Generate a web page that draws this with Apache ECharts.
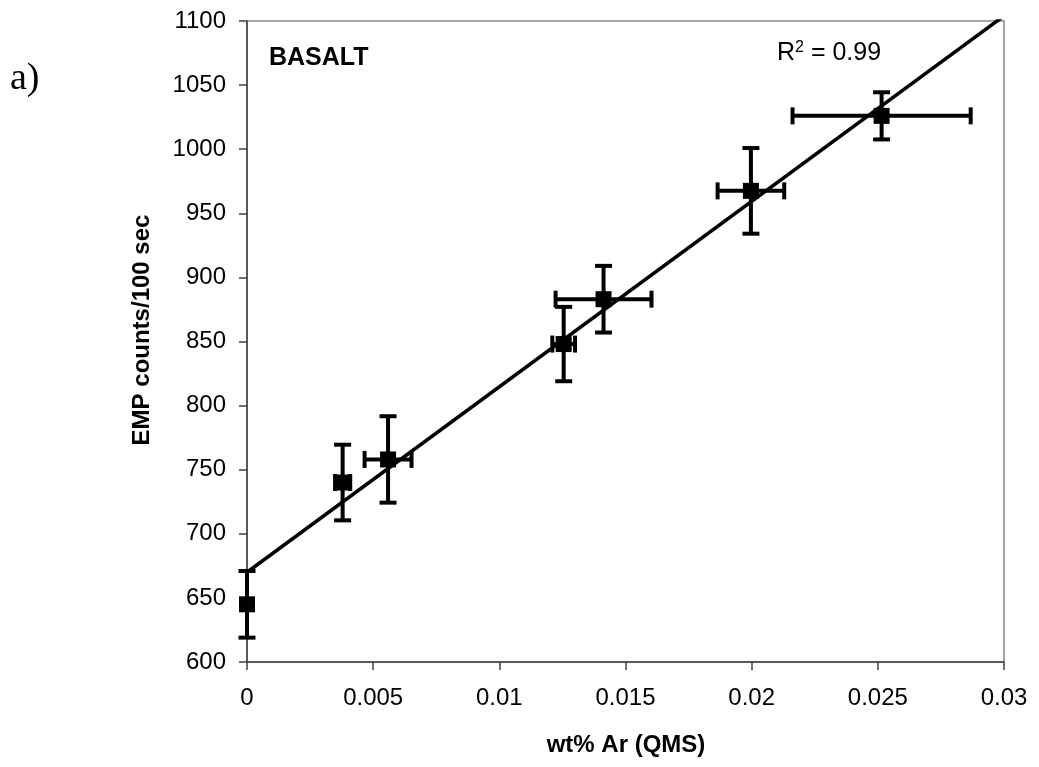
<!DOCTYPE html>
<html>
<head>
<meta charset="utf-8">
<script src="https://cdn.jsdelivr.net/npm/echarts@6/dist/echarts.min.js"></script>
<style>
html,body{margin:0;padding:0;background:#fff;}
#chart{width:1039px;height:767px;}
</style>
</head>
<body>
<div id="chart"></div>
<script>
// Data
const xValues = [0, 0.00379, 0.00559, 0.01255, 0.01413, 0.01997, 0.02515];
const yValues = [645, 740, 758, 848, 883, 967.5, 1026];
const xErrors = [0, 0.0003, 0.00093, 0.00045, 0.0019, 0.00132, 0.00353];
const yErrors = [26, 29.5, 33.7, 29, 26, 33.4, 18.4];
const trendX = [0, 0.03];
const trendY = [670, 1104];
const xTickLabels = ['0', '0.005', '0.01', '0.015', '0.02', '0.025', '0.03'];
const yTickLabels = ['600','650','700','750','800','850','900','950','1000','1050','1100'];

const FONT = '"Liberation Sans", Arial, sans-serif';
const points = xValues.map((x, i) => [x, yValues[i], xErrors[i], yErrors[i]]);
const trendData = trendX.map((x, i) => [x, trendY[i]]);

const chart = echarts.init(document.getElementById('chart'));

function renderErr(params, api) {
  const x = api.value(0), y = api.value(1), xe = api.value(2), ye = api.value(3);
  const children = [];
  const st = { stroke: '#000', lineWidth: 4, lineCap: 'butt' };
  const cap = 8.5;
  if (ye > 0) {
    const t = api.coord([x, y + ye]);
    const b = api.coord([x, y - ye]);
    children.push({ type: 'line', shape: { x1: t[0], y1: t[1], x2: b[0], y2: b[1] }, style: st });
    children.push({ type: 'line', shape: { x1: t[0] - cap, y1: t[1], x2: t[0] + cap, y2: t[1] }, style: st });
    children.push({ type: 'line', shape: { x1: b[0] - cap, y1: b[1], x2: b[0] + cap, y2: b[1] }, style: st });
  }
  if (xe > 0) {
    const l = api.coord([x - xe, y]);
    const r = api.coord([x + xe, y]);
    children.push({ type: 'line', shape: { x1: l[0], y1: l[1], x2: r[0], y2: r[1] }, style: st });
    children.push({ type: 'line', shape: { x1: l[0], y1: l[1] - cap, x2: l[0], y2: l[1] + cap }, style: st });
    children.push({ type: 'line', shape: { x1: r[0], y1: r[1] - cap, x2: r[0], y2: r[1] + cap }, style: st });
  }
  return { type: 'group', children: children };
}

const option = {
  backgroundColor: '#fff',
  animation: false,
  grid: {
    left: 247, right: 35, top: 21, bottom: 105,
    show: true, borderColor: '#888', borderWidth: 1.5, backgroundColor: 'transparent'
  },
  xAxis: {
    type: 'value', min: 0, max: 0.03, interval: 0.005,
    axisLine: { show: true, onZero: false, lineStyle: { color: '#404040', width: 1.5 } },
    axisTick: { show: true, inside: false, length: 8, lineStyle: { color: '#404040', width: 1.5 } },
    splitLine: { show: false },
    axisLabel: {
      margin: 24, color: '#000', fontFamily: FONT, fontSize: 24,
      formatter: function (v) { return xTickLabels[Math.round(v / 0.005)]; }
    }
  },
  yAxis: {
    type: 'value', min: 600, max: 1100, interval: 50,
    axisLine: { show: true, onZero: false, lineStyle: { color: '#404040', width: 1.5 } },
    axisTick: { show: true, inside: false, length: 8, lineStyle: { color: '#404040', width: 1.5 } },
    splitLine: { show: false },
    axisLabel: {
      margin: 21, color: '#000', fontFamily: FONT, fontSize: 24,
      formatter: function (v) { return yTickLabels[Math.round((v - 600) / 50)]; }
    }
  },
  graphic: [
    { type: 'text', left: 10, top: 60, style: { text: 'a)', font: '38px "Liberation Serif", "Times New Roman", serif', fill: '#000' } },
    { type: 'text', x: 269, y: 58, style: { text: 'BASALT', font: 'bold 25px ' + FONT, fill: '#000', textVerticalAlign: 'middle' } },
    { type: 'text', x: 777, y: 53, style: {
        text: '{n|R}{s|2}{n| = 0.99}', textVerticalAlign: 'middle',
        rich: {
          n: { fontFamily: FONT, fontSize: 25, color: '#000' },
          s: { fontFamily: FONT, fontSize: 16, color: '#000', verticalAlign: 'top', padding: [0, 0, 10, 0] }
        }
      } },
    { type: 'text', x: 626, y: 745, style: { text: 'wt% Ar (QMS)', font: 'bold 24px ' + FONT, fill: '#000', textAlign: 'center', textVerticalAlign: 'middle' } },
    { type: 'text', x: 142, y: 330, rotation: Math.PI / 2, style: { text: 'EMP counts/100 sec', font: 'bold 24px ' + FONT, fill: '#000', textAlign: 'center', textVerticalAlign: 'middle' } }
  ],
  series: [
    {
      type: 'line', data: trendData, symbol: 'none', clip: true,
      lineStyle: { color: '#000', width: 3.5 }, z: 2, silent: true
    },
    {
      type: 'custom', data: points, renderItem: renderErr, z: 3, silent: true,
      encode: { x: 0, y: 1 }, clip: false
    },
    {
      type: 'scatter', data: points.map(p => [p[0], p[1]]), symbol: 'rect', symbolSize: 16,
      itemStyle: { color: '#000', opacity: 1 }, z: 4, silent: true
    }
  ]
};
chart.setOption(option);
</script>
</body>
</html>
